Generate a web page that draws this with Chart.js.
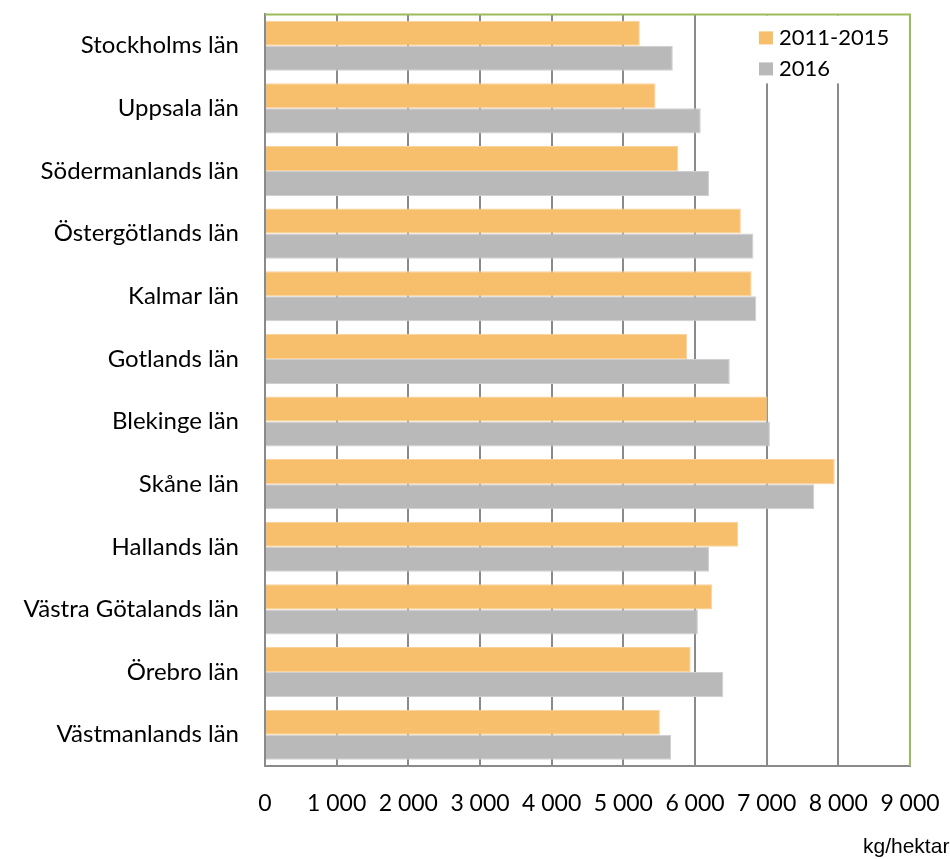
<!DOCTYPE html>
<html lang="sv">
<head>
<meta charset="UTF-8">
<title>Skörd per län</title>
<script src="https://cdn.jsdelivr.net/npm/chart.js"></script>
<style>
  html, body { margin: 0; padding: 0; background: #fff; }
  #wrap { position: relative; width: 950px; height: 859px; overflow: hidden; }
</style>
</head>
<body>
<div id="wrap">
  <canvas id="chart" width="950" height="859"></canvas>
</div>
<script>
// data
const categories = [
  'Stockholms län', 'Uppsala län', 'Södermanlands län', 'Östergötlands län',
  'Kalmar län', 'Gotlands län', 'Blekinge län', 'Skåne län',
  'Hallands län', 'Västra Götalands län', 'Örebro län', 'Västmanlands län'
];
const seriesNames = ['2011-2015', '2016'];
const values20112015 = [5230, 5450, 5765, 6640, 6790, 5890, 7010, 7950, 6600, 6240, 5940, 5510];
const values2016 = [5690, 6080, 6195, 6815, 6855, 6485, 7045, 7665, 6195, 6040, 6395, 5665];
const xMax = 9000;
const xStep = 1000;
const unitLabel = 'kg/hektar';

const orange = '#f7bf6b';
const gray = '#b9b9b9';
const green = '#9bbb59';
const axisGray = '#8a8a8a';
const font = 'Lato';

// legend drawn inside the plot, top right
const insideLegend = {
  id: 'insideLegend',
  afterDatasetsDraw(chart) {
    const ctx = chart.ctx;
    const area = chart.chartArea;
    ctx.save();
    ctx.fillStyle = '#fff';
    ctx.fillRect(area.right - 158, area.top + 1, 145, 68);
    const colors = [orange, gray];
    ctx.font = '22px ' + font;
    ctx.textBaseline = 'middle';
    ctx.textAlign = 'left';
    seriesNames.forEach((name, i) => {
      const y = area.top + 24 + i * 31;
      ctx.fillStyle = colors[i];
      ctx.fillRect(area.right - 151, y - 7, 14, 13);
      ctx.fillStyle = '#000';
      ctx.fillText(name, area.right - 131, y);
    });
    ctx.restore();
  },
  afterDraw(chart) {
    const ctx = chart.ctx;
    const area = chart.chartArea;
    ctx.save();
    // green frame on top and right
    ctx.strokeStyle = green;
    ctx.lineWidth = 2;
    ctx.beginPath();
    ctx.moveTo(area.left, area.top);
    ctx.lineTo(area.right, area.top);
    ctx.lineTo(area.right, area.bottom);
    ctx.stroke();
    // unit text bottom right
    ctx.fillStyle = '#000';
    ctx.font = '21px "Liberation Sans"';
    ctx.textAlign = 'left';
    ctx.textBaseline = 'alphabetic';
    ctx.fillText(unitLabel, 863, 853);
    ctx.restore();
  }
};

new Chart(document.getElementById('chart'), {
  type: 'bar',
  data: {
    labels: categories,
    datasets: [
      {
        label: seriesNames[0],
        data: values20112015,
        backgroundColor: orange,
        borderColor: '#fad29a',
        borderWidth: 1,
        categoryPercentage: 0.8,
        barPercentage: 1
      },
      {
        label: seriesNames[1],
        data: values2016,
        backgroundColor: gray,
        borderColor: '#cfcfcf',
        borderWidth: 1,
        categoryPercentage: 0.8,
        barPercentage: 1
      }
    ]
  },
  options: {
    indexAxis: 'y',
    responsive: false,
    animation: false,
    layout: { padding: { left: 0, top: 14, right: 40, bottom: 0 } },
    plugins: {
      legend: { display: false },
      tooltip: { enabled: false }
    },
    scales: {
      x: {
        min: 0,
        max: xMax,
        ticks: {
          stepSize: xStep,
          padding: 0,
          color: '#000',
          font: { family: font, size: 23 },
          maxRotation: 0,
          callback: (v) => v === 0 ? '0' : String(v).replace(/\B(?=(\d{3})+(?!\d))/g, ' ')
        },
        grid: {
          drawTicks: true,
          tickLength: 24,
          tickColor: 'transparent',
          color: (c) => c.tick && c.tick.value === xMax ? green : axisGray,
          lineWidth: 2
        },
        border: { color: axisGray, width: 2 },
        afterFit(scale) { scale.height = 93; }
      },
      y: {
        ticks: {
          padding: 0,
          color: '#000',
          font: { family: font, size: 24 }
        },
        grid: { display: true, drawOnChartArea: false, drawTicks: true, tickLength: 26, tickColor: 'transparent' },
        border: { color: axisGray, width: 2 },
        afterFit(scale) { scale.width = 265; }
      }
    }
  },
  plugins: [insideLegend]
});
</script>
</body>
</html>
